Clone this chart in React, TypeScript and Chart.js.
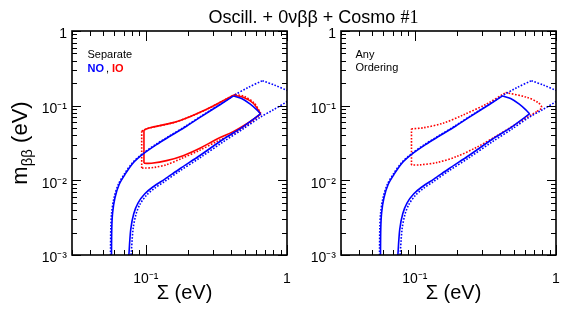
import React, { useEffect, useRef } from "react";
import { Chart, registerables } from "chart.js";

Chart.register(...registerables);

type Pt = [number, number];

const FONT = '"Liberation Sans", Arial, Helvetica, sans-serif';
const BLUE = "#0000ff";
const RED = "#ff0000";

// axes
const sigmaMin = 0.03;
const sigmaMax = 1;
const mbbMin = 0.001;
const mbbMax = 1;
const xTickValues = [0.1, 1];
const xTickLabels = ["10⁻¹", "1"];
const yTickValues = [0.001, 0.01, 0.1, 1];
const yTickLabels = ["10⁻³", "10⁻²", "10⁻¹", "1"];

// ---- NO (blue) solid contour, Σ (eV) vs mββ (eV)
const noSolidUpper: Pt[] = [
  [0.0571, 0.0009], [0.0574, 0.0023], [0.0582, 0.0037], [0.0604, 0.0058],
  [0.0647, 0.0088], [0.071, 0.0119], [0.0813, 0.0171], [0.0958, 0.0226],
  [0.119, 0.0301], [0.148, 0.0389], [0.194, 0.053], [0.255, 0.0743],
  [0.335, 0.103], [0.418, 0.135],
];
const noSolidArc: Pt[] = [
  [0.418, 0.135], [0.477, 0.1245], [0.5465, 0.1055], [0.609, 0.0885], [0.65, 0.0775],
];
const noSolidLower: Pt[] = [
  [0.65, 0.0775], [0.49, 0.0524], [0.3536, 0.0355], [0.2415, 0.0215],
  [0.1742, 0.0143], [0.1364, 0.0104], [0.1127, 0.0082], [0.0984, 0.0066],
  [0.0882, 0.005], [0.0822, 0.0036], [0.0782, 0.0022], [0.0756, 0.0009],
];

// ---- NO (blue) dotted contour
const noDottedUpper: Pt[] = [
  [0.0562, 0.0009], [0.0565, 0.0023], [0.0573, 0.0037], [0.0595, 0.0058],
  [0.0638, 0.0088], [0.07, 0.0119], [0.0802, 0.0171], [0.0945, 0.0226],
  [0.117, 0.0301], [0.146, 0.0389], [0.191, 0.053], [0.252, 0.0743],
  [0.332, 0.103], [0.42, 0.137], [0.53, 0.175], [0.67, 0.216],
];
const noDottedRight: Pt[] = [
  [0.67, 0.216], [0.82, 0.188], [1.0, 0.16], [1.1, 0.149],
];
const noDottedLower: Pt[] = [
  [1.1, 0.125], [1.0, 0.113], [0.8, 0.088], [0.65, 0.0705], [0.49, 0.049],
  [0.3536, 0.0328], [0.2415, 0.02], [0.1742, 0.0134], [0.1364, 0.0097],
  [0.115, 0.0078], [0.101, 0.0063], [0.091, 0.0048], [0.0852, 0.0035],
  [0.0812, 0.0022], [0.0784, 0.0009],
];

// ---- IO (red) solid contour, separate orderings
const ioSolidLeft: Pt[] = [[0.097, 0.0169], [0.097, 0.0473]];
const ioSolidUpper: Pt[] = [
  [0.097, 0.0473], [0.1056, 0.0503], [0.1562, 0.0593], [0.2051, 0.0713],
  [0.2694, 0.0894], [0.3535, 0.1168], [0.418, 0.138],
];
const ioSolidArc: Pt[] = [
  [0.418, 0.138], [0.4898, 0.1296], [0.5768, 0.1077], [0.65, 0.0775],
];
const ioSolidLower: Pt[] = [
  [0.65, 0.0775], [0.5465, 0.0611], [0.416, 0.0449], [0.3172, 0.0355],
  [0.2415, 0.0269], [0.1838, 0.0214], [0.1402, 0.01835], [0.1097, 0.01694],
  [0.097, 0.0169],
];

// ---- IO (red) dotted contour, separate orderings
const ioDottedLeft: Pt[] = [[0.0935, 0.0146], [0.0935, 0.0455]];
const ioDottedUpper: Pt[] = [
  [0.0935, 0.0455], [0.104, 0.0497], [0.156, 0.059], [0.205, 0.0711],
  [0.27, 0.0893], [0.354, 0.117], [0.43, 0.142],
];
const ioDottedArc: Pt[] = [
  [0.43, 0.142], [0.5, 0.1325], [0.585, 0.1085], [0.655, 0.0778],
];
const ioDottedLower: Pt[] = [
  [0.655, 0.0778], [0.55, 0.0593], [0.42, 0.0425], [0.32, 0.0333],
  [0.24, 0.0252], [0.18, 0.0197], [0.14, 0.0162], [0.115, 0.0149],
  [0.1, 0.0146], [0.0935, 0.0146],
];

// ---- any ordering: red dotted contour
const anyDottedLeft: Pt[] = [[0.0947, 0.016], [0.0947, 0.049]];
const anyDottedUpper: Pt[] = [
  [0.0947, 0.049], [0.1145, 0.0505], [0.1588, 0.0583], [0.2202, 0.0751],
  [0.3225, 0.1054], [0.44, 0.15],
];
const anyDottedArc: Pt[] = [
  [0.44, 0.15], [0.62, 0.1296], [0.749, 0.1097], [0.7917, 0.094], [0.7297, 0.0831],
];
const anyDottedLower: Pt[] = [
  [0.7297, 0.0831], [0.5555, 0.0611], [0.3797, 0.0393], [0.274, 0.0277],
  [0.1975, 0.0208], [0.1425, 0.01726], [0.1085, 0.0161], [0.0947, 0.016],
];

function seg(points: Pt[], color: string, dotted: boolean, order: number) {
  return {
    data: points.map(([x, y]) => ({ x, y })),
    showLine: true,
    borderColor: color,
    backgroundColor: color,
    borderWidth: 1.6,
    borderDash: dotted ? [1.6, 1.6] : [],
    tension: 0.3,
    pointRadius: 0,
    pointHoverRadius: 0,
    fill: false,
    order,
  };
}

function labelFor(v: number, values: number[], labels: string[]) {
  const i = values.findIndex((t) => Math.abs(Math.log10(t) - Math.log10(v)) < 1e-6);
  return i >= 0 ? labels[i] : "";
}

function makeScales() {
  return {
    x: {
      type: "logarithmic",
      min: sigmaMin,
      max: sigmaMax,
      afterBuildTicks: (s: any) => {
        s.ticks = xTickValues.map((v) => ({ value: v }));
      },
      afterFit: (s: any) => {
        s.height = 30;
      },
      grid: { display: false, drawTicks: false },
      border: { display: false },
      ticks: {
        autoSkip: false,
        maxRotation: 0,
        minRotation: 0,
        padding: 16,
        color: "#000",
        font: { family: FONT, size: 14 },
        callback: (v: any) => labelFor(Number(v), xTickValues, xTickLabels),
      },
    },
    y: {
      type: "logarithmic",
      min: mbbMin,
      max: mbbMax,
      afterBuildTicks: (s: any) => {
        s.ticks = yTickValues.map((v) => ({ value: v }));
      },
      afterFit: (s: any) => {
        s.width = 40;
      },
      grid: { display: false, drawTicks: false },
      border: { display: false },
      ticks: {
        autoSkip: false,
        padding: 5,
        labelOffset: 3.5,
        color: "#000",
        font: { family: FONT, size: 14 },
        callback: (v: any) => labelFor(Number(v), yTickValues, yTickLabels),
      },
    },
  };
}

function decoPlugin(drawTexts: (ctx: CanvasRenderingContext2D, a: any) => void) {
  return {
    id: "panelDeco",
    afterDraw(chart: any) {
      const { ctx, chartArea: a } = chart;
      const xs = chart.scales.x;
      const ys = chart.scales.y;
      ctx.save();
      ctx.strokeStyle = "#000";
      ctx.lineWidth = 1;
      ctx.beginPath();
      for (let d = -2; d <= 0; d++) {
        for (let k = 1; k <= 9; k++) {
          const v = k * Math.pow(10, d);
          if (v < sigmaMin * 0.999 || v > sigmaMax * 1.001) continue;
          const px = Math.round(xs.getPixelForValue(v)) + 0.5;
          const len = k === 1 ? 10 : 5;
          ctx.moveTo(px, a.bottom);
          ctx.lineTo(px, a.bottom - len);
          ctx.moveTo(px, a.top);
          ctx.lineTo(px, a.top + len);
        }
      }
      for (let d = -3; d <= 0; d++) {
        for (let k = 1; k <= 9; k++) {
          const v = k * Math.pow(10, d);
          if (v < mbbMin * 0.999 || v > mbbMax * 1.001) continue;
          const py = Math.round(ys.getPixelForValue(v)) + 0.5;
          const len = k === 1 ? 9 : 5;
          ctx.moveTo(a.left, py);
          ctx.lineTo(a.left + len, py);
          ctx.moveTo(a.right, py);
          ctx.lineTo(a.right - len, py);
        }
      }
      ctx.stroke();
      ctx.lineWidth = 1.6;
      ctx.strokeRect(a.left, a.top, a.right - a.left, a.bottom - a.top);

      // x title
      ctx.fillStyle = "#000";
      ctx.font = `20px ${FONT}`;
      ctx.textAlign = "center";
      ctx.textBaseline = "alphabetic";
      ctx.fillText("Σ (eV)", (a.left + a.right) / 2 + 5, 299);
      drawTexts(ctx, a);
      ctx.restore();
    },
  };
}

function drawLeftTexts(ctx: CanvasRenderingContext2D, a: any) {
  // main title
  ctx.textAlign = "left";
  ctx.textBaseline = "alphabetic";
  const t1 = "Oscill. + 0νββ + Cosmo ";
  const t2 = "#1";
  ctx.font = `18px ${FONT}`;
  const w1 = ctx.measureText(t1).width;
  ctx.font = `18px "Liberation Serif", "Times New Roman", serif`;
  const w2 = ctx.measureText(t2).width;
  const x0 = 313.5 - (w1 + w2) / 2;
  ctx.font = `18px ${FONT}`;
  ctx.fillText(t1, x0, 23);
  ctx.font = `18px "Liberation Serif", "Times New Roman", serif`;
  ctx.fillText(t2, x0 + w1, 23);

  // y title: m_ββ (eV)
  ctx.save();
  ctx.translate(27, (a.top + a.bottom) / 2);
  ctx.rotate(-Math.PI / 2);
  ctx.font = `22px ${FONT}`;
  const wm = ctx.measureText("m").width;
  const wr = ctx.measureText(" (eV)").width;
  ctx.font = `15px ${FONT}`;
  const wb = ctx.measureText("ββ").width;
  let x = -(wm + wb + wr) / 2;
  ctx.font = `22px ${FONT}`;
  ctx.fillText("m", x, 0);
  x += wm;
  ctx.font = `15px ${FONT}`;
  ctx.fillText("ββ", x, 5);
  x += wb;
  ctx.font = `22px ${FONT}`;
  ctx.fillText(" (eV)", x, 0);
  ctx.restore();

  // legend texts
  ctx.font = `11px ${FONT}`;
  ctx.fillStyle = "#000";
  ctx.fillText("Separate", a.left + 15.5, a.top + 26.5);
  let lx = a.left + 15.5;
  const ly = a.top + 40.5;
  ctx.font = `bold 11px ${FONT}`;
  ctx.fillStyle = BLUE;
  ctx.fillText("NO", lx, ly);
  lx += ctx.measureText("NO").width + 2;
  ctx.font = `11px ${FONT}`;
  ctx.fillStyle = "#000";
  ctx.fillText(",", lx, ly);
  lx += ctx.measureText(",").width + 3;
  ctx.font = `bold 11px ${FONT}`;
  ctx.fillStyle = RED;
  ctx.fillText("IO", lx, ly);
}

function drawRightTexts(ctx: CanvasRenderingContext2D, a: any) {
  ctx.textAlign = "left";
  ctx.textBaseline = "alphabetic";
  ctx.font = `11px ${FONT}`;
  ctx.fillStyle = "#000";
  ctx.fillText("Any", a.left + 14.5, a.top + 26.5);
  ctx.fillText("Ordering", a.left + 14.5, a.top + 39.5);
}

function makeConfig(datasets: any[], padding: any, drawTexts: any) {
  return {
    type: "scatter",
    data: { datasets },
    options: {
      animation: false,
      responsive: false,
      devicePixelRatio: 1,
      events: [],
      layout: { padding },
      plugins: { legend: { display: false }, tooltip: { enabled: false } },
      scales: makeScales(),
    },
    plugins: [decoPlugin(drawTexts)],
  } as any;
}

export default function App() {
  const leftRef = useRef<HTMLCanvasElement>(null);
  const rightRef = useRef<HTMLCanvasElement>(null);

  useEffect(() => {
    const leftSets = [
      seg(noSolidUpper, BLUE, false, 0),
      seg(noSolidArc, BLUE, false, 0),
      seg(noSolidLower, BLUE, false, 0),
      seg(ioSolidLeft, RED, false, 1),
      seg(ioSolidUpper, RED, false, 1),
      seg(ioSolidArc, RED, false, 1),
      seg(ioSolidLower, RED, false, 1),
      seg(noDottedUpper, BLUE, true, 2),
      seg(noDottedRight, BLUE, true, 2),
      seg(noDottedLower, BLUE, true, 2),
      seg(ioDottedLeft, RED, true, 3),
      seg(ioDottedUpper, RED, true, 3),
      seg(ioDottedArc, RED, true, 3),
      seg(ioDottedLower, RED, true, 3),
    ];
    const rightSets = [
      seg(noSolidUpper, BLUE, false, 0),
      seg(noSolidArc, BLUE, false, 0),
      seg(noSolidLower, BLUE, false, 0),
      seg(noDottedUpper, BLUE, true, 2),
      seg(noDottedRight, BLUE, true, 2),
      seg(noDottedLower, BLUE, true, 2),
      seg(anyDottedLeft, RED, true, 3),
      seg(anyDottedUpper, RED, true, 3),
      seg(anyDottedArc, RED, true, 3),
      seg(anyDottedLower, RED, true, 3),
    ];
    const left = new Chart(
      leftRef.current as HTMLCanvasElement,
      makeConfig(leftSets, { left: 32, right: 295, top: 31, bottom: 30 }, drawLeftTexts)
    );
    const right = new Chart(
      rightRef.current as HTMLCanvasElement,
      makeConfig(rightSets, { left: 301, right: 26, top: 31, bottom: 30 }, drawRightTexts)
    );
    return () => {
      left.destroy();
      right.destroy();
    };
  }, []);

  const canvasStyle: React.CSSProperties = {
    position: "absolute",
    left: 0,
    top: 0,
    width: 582,
    height: 315,
  };

  return (
    <div
      style={{
        position: "fixed",
        left: 0,
        top: 0,
        width: 582,
        height: 315,
        background: "#fff",
      }}
    >
      <canvas ref={leftRef} width={582} height={315} style={canvasStyle} />
      <canvas ref={rightRef} width={582} height={315} style={canvasStyle} />
    </div>
  );
}
